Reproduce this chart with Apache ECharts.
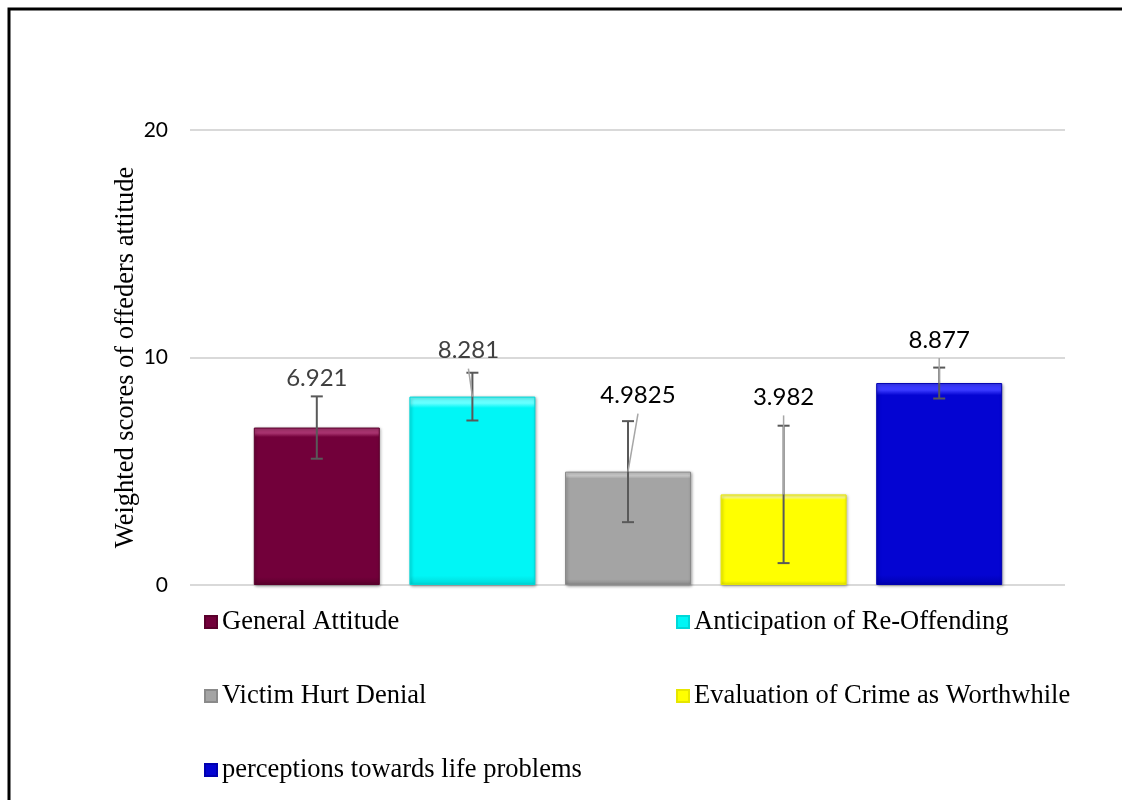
<!DOCTYPE html>
<html>
<head>
<meta charset="utf-8">
<script src="https://cdn.jsdelivr.net/npm/echarts@6/dist/echarts.min.js"></script>
<style>
html,body{margin:0;padding:0;background:#fff;}
#chart{width:1122px;height:800px;}
</style>
</head>
<body>
<div id="chart"></div>
<script>
// ---- data ----
const seriesNames = ['General Attitude','Anticipation of Re-Offending','Victim Hurt Denial','Evaluation of Crime as Worthwhile','perceptions towards life problems'];
const meanValues = [6.921, 8.281, 4.9825, 3.982, 8.877];
const errorValues = [1.37, 1.05, 2.22, 3.02, 0.68];
const yTicks = [0, 10, 20];
const yAxisTitle = 'Weighted scores of offeders attitude';

// ---- styles ----
const barColors = [
  {base:'#72003a', top:'#a8336f', bot:'#5a002c'},
  {base:'#00f6f6', top:'#66ffff', bot:'#00d8d8'},
  {base:'#a4a4a4', top:'#c8c8c8', bot:'#8a8a8a'},
  {base:'#ffff00', top:'#ffff80', bot:'#e6e600'},
  {base:'#0404d2', top:'#3a3aff', bot:'#0000b0'}
];
const labelStyle = [
  {distance:37, dx:0,  color:'#404040', line:false},
  {distance:34, dx:-4, color:'#404040', line:true},
  {distance:64, dx:10, color:'#000000', line:true},
  {distance:85, dx:0,  color:'#000000', line:true},
  {distance:31, dx:0,  color:'#000000', line:true}
];

const chart = echarts.init(document.getElementById('chart'));

const barSeries = seriesNames.map((name, i) => {
  const data = meanValues.map((v, j) => j === i ? v : '-');
  const c = barColors[i];
  const ls = labelStyle[i];
  return {
    name: name,
    type: 'bar',
    xAxisIndex: 1,
    yAxisIndex: 1,
    stack: 'all',
    barWidth: 126,
    data: data,
    itemStyle: {
      color: new echarts.graphic.LinearGradient(0, 0, 0, 1, [
        {offset: 0, color: c.top},
        {offset: 0.035, color: c.top},
        {offset: 0.06, color: c.base},
        {offset: 0.95, color: c.base},
        {offset: 1, color: c.bot}
      ]),
      borderColor: c.bot,
      borderWidth: 1,
      shadowColor: 'rgba(0,0,0,0.35)',
      shadowBlur: 3,
      shadowOffsetX: 1,
      shadowOffsetY: 1
    },
    label: {
      show: true,
      position: 'top',
      distance: ls.distance,
      offset: [ls.dx, 0],
      fontFamily: 'Lato',
      fontSize: 24,
      color: ls.color,
      formatter: p => String(p.value)
    },
    legendHoverLink: false,
    animation: false
  };
});

// error bars + label leader lines
const errorSeries = {
  type: 'custom',
  xAxisIndex: 1,
  yAxisIndex: 1,
  z: 10,
  silent: true,
  data: meanValues.map((v, i) => [i, v - errorValues[i], v + errorValues[i], v]),
  renderItem: function (params, api) {
    const idx = params.dataIndex;
    const x = api.value(0);
    const lo = api.coord([x, api.value(1)]);
    const hi = api.coord([x, api.value(2)]);
    const top = api.coord([x, api.value(3)]);
    const cap = 6;
    const st = {stroke: '#595959', lineWidth: 2};
    const children = [
      {type: 'line', shape: {x1: lo[0], y1: lo[1], x2: hi[0], y2: hi[1]}, style: st},
      {type: 'line', shape: {x1: lo[0]-cap, y1: lo[1], x2: lo[0]+cap, y2: lo[1]}, style: st},
      {type: 'line', shape: {x1: hi[0]-cap, y1: hi[1], x2: hi[0]+cap, y2: hi[1]}, style: st}
    ];
    const ls = labelStyle[idx];
    if (ls.line) {
      children.push({
        type: 'line', z2: 5,
        shape: {x1: top[0] + ls.dx, y1: top[1] - ls.distance + 6, x2: top[0], y2: top[1]},
        style: {stroke: '#a6a6a6', lineWidth: 1.5}
      });
    }
    return {type: 'group', children: children};
  },
  animation: false
};

const legendText = {fontFamily: 'Liberation Serif', fontSize: 26.5, color: '#000', lineHeight: 28};

const option = {
  animation: false,
  backgroundColor: '#fff',
  graphic: [{
    type: 'polyline',
    shape: {points: [[9, 820], [9, 9], [1140, 9]]},
    style: {stroke: '#000', lineWidth: 3, fill: null},
    silent: true
  }],
  grid: [
    {left: 190, right: 57, top: 130, height: 455},
    {left: 239, width: 778, top: 130, height: 455}
  ],
  xAxis: [
    {type: 'category', gridIndex: 0, data: [''], show: false},
    {type: 'category', gridIndex: 1, data: seriesNames, show: false}
  ],
  yAxis: [
    {
      type: 'value', gridIndex: 0, min: yTicks[0], max: yTicks[yTicks.length-1], interval: 10,
      axisLine: {show: false}, axisTick: {show: false},
      axisLabel: {fontFamily: 'Lato', fontSize: 21, color: '#000', margin: 22},
      splitLine: {lineStyle: {color: '#d9d9d9', width: 2}},
      name: yAxisTitle, nameLocation: 'middle', nameGap: 50, nameMoveOverlap: false,
      nameTextStyle: {fontFamily: 'Liberation Serif', fontSize: 26.5, color: '#000'}
    },
    {
      type: 'value', gridIndex: 1, min: yTicks[0], max: yTicks[yTicks.length-1], interval: 10,
      show: false, splitLine: {show: false}
    }
  ],
  legend: [
    {
      orient: 'vertical', left: 204, top: 608, padding: 0,
      data: [seriesNames[0], seriesNames[2], seriesNames[4]],
      icon: 'rect', itemWidth: 12, itemHeight: 12, itemGap: 46,
      textStyle: legendText, selectedMode: false
    },
    {
      orient: 'vertical', left: 676, top: 608, padding: 0,
      data: [seriesNames[1], seriesNames[3]],
      icon: 'rect', itemWidth: 12, itemHeight: 12, itemGap: 46,
      textStyle: legendText, selectedMode: false
    }
  ],
  series: [...barSeries, errorSeries]
};
chart.setOption(option);
</script>
</body>
</html>
